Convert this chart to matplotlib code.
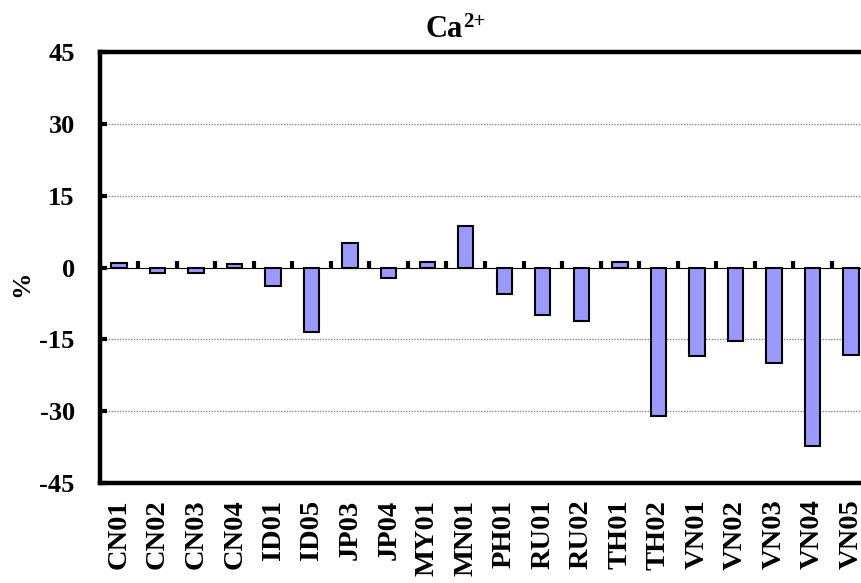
import matplotlib.pyplot as plt
import numpy as np

sites = ['CN01', 'CN02', 'CN03', 'CN04', 'ID01', 'ID05', 'JP03', 'JP04', 'MY01', 'MN01',
         'PH01', 'RU01', 'RU02', 'TH01', 'TH02', 'VN01', 'VN02', 'VN03', 'VN04', 'VN05']
values = [1.0, -1.2, -1.2, 0.8, -3.8, -13.5, 5.2, -2.2, 1.2, 8.7,
          -5.6, -10.0, -11.1, 1.2, -31.0, -18.5, -15.3, -19.9, -37.2, -18.3]
yticks = [-45, -30, -15, 0, 15, 30, 45]

plt.rcParams['font.family'] = 'Liberation Serif'
plt.rcParams['font.weight'] = 'bold'

fig = plt.figure(figsize=(8.62, 5.83), dpi=100)
ax = fig.add_axes([0.1158, 0.1715, 0.8937, 0.7393])

x = np.arange(len(sites))
ax.bar(x, values, width=0.4, color='#9999FF', edgecolor='black', linewidth=1.5, zorder=3)

ax.set_xlim(-0.5, len(sites) - 0.5)
ax.set_ylim(-45, 45)
ax.set_yticks(yticks)
ax.set_yticklabels([str(v) for v in yticks], fontsize=19, fontweight='bold')
ax.set_xticks(x)
ax.set_xticklabels(sites, rotation=90, fontsize=20.5, fontweight='bold')
ax.tick_params(axis='x', length=0, pad=12)
ax.tick_params(axis='y', direction='in', length=5, width=3, pad=18)

for v in [-30, -15, 15, 30]:
    ax.axhline(v, color='#888888', linestyle=(0, (1, 1)), linewidth=1, zorder=1)

for s in ['left', 'top', 'bottom']:
    ax.spines[s].set_linewidth(3.2)
ax.spines['right'].set_visible(False)

# category axis crossing at zero, ticks between categories
zax = ax.secondary_xaxis(0.5)
zax.set_xticks(np.arange(-0.5, len(sites), 1.0))
zax.xaxis.set_ticklabels([])
zax.tick_params(axis='x', direction='out', length=5, width=3)
zax.spines['bottom'].set_linewidth(3.2)
zax.spines['bottom'].set_zorder(4)

# title Ca2+
fig.text(463 / 862, 1 - 37 / 583, 'Ca', ha='right', va='baseline', fontsize=22)
fig.text(463 / 862, 1 - 27 / 583, '2+', ha='left', va='baseline', fontsize=15)
fig.text(22 / 862, 1 - 284 / 583, '%', rotation=90, ha='center', va='center',
         fontsize=19, fontweight='bold')

plt.savefig('out.png', dpi=100)
